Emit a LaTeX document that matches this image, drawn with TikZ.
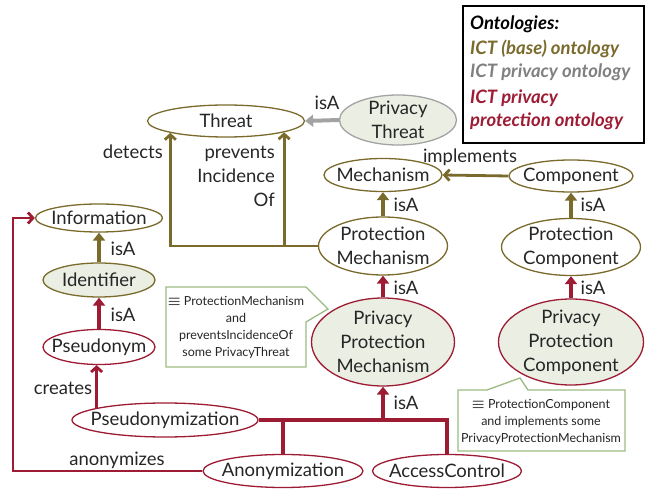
\documentclass[tikz,border=0pt]{standalone}
\usepackage{fontspec}
\setmainfont{Lato}
\usetikzlibrary{shapes.geometric,arrows.meta,calc}

\definecolor{baseol}{HTML}{7A6A2C}
\definecolor{privred}{HTML}{9E1B34}
\definecolor{privgray}{HTML}{808080}
\definecolor{arrowgray}{HTML}{A3A3A3}
\definecolor{lightfill}{HTML}{EAEEE3}
\definecolor{notegreen}{HTML}{9CBB83}
\definecolor{labelgray}{HTML}{262626}

% equivalence sign for the class definitions
\newcommand{\eqvsign}{{\fontsize{15}{17}\selectfont$\boldsymbol{\equiv}$}}
\usepackage{amsmath}

\tikzset{
  % the ellipse size is fixed by minimum width/height alone
  cls/.style={ellipse, draw, line width=1.3pt, inner xsep=-40pt, inner ysep=-20pt,
    align=center, fill=white, text=labelgray, font=\fontsize{18.5}{24}\selectfont},
  basecls/.style={cls, draw=baseol},
  protcls/.style={cls, draw=privred},
  privfill/.style={fill=lightfill},
  isa/.style={line width=4pt, -{Triangle[length=8pt,width=12pt]}},
  rel/.style={line width=2.8pt, -{Straight Barb[length=5pt,width=11pt]}},
  tree/.style={line width=4.5pt, draw=privred},
  lbl/.style={inner sep=0pt, text=labelgray, font=\fontsize{18.5}{24}\selectfont},
  notebox/.style={draw=notegreen, line width=1.3pt, fill=white, line join=miter},
  notetext/.style={inner sep=0pt, align=center, text=labelgray,
    font=\fontsize{12.5}{17}\selectfont},
  legtext/.style={inner sep=0pt, anchor=base west,
    font=\fontsize{18.5}{24}\selectfont\bfseries\itshape},
}

\begin{document}
\begin{tikzpicture}[x=1pt, y=-1pt]
\useasboundingbox (0,0) rectangle (649,489);

% legend
\node[draw=black, line width=2pt, minimum width=181pt, minimum height=137pt,
  anchor=north west, inner sep=0pt] (legend) at (462,5) {};
\node[legtext, text=black]    (leg0) at (470,30)  {Ontologies:};
\node[legtext, text=baseol]   (leg1) at (470,55)  {ICT (base) ontology};
\node[legtext, text=privgray] (leg2) at (470,78)  {ICT privacy ontology};
\node[legtext, text=privred]  (leg3) at (470,104) {ICT privacy};
\node[legtext, text=privred]  (leg4) at (470,127) {protection ontology};

% classes
\node[basecls, minimum width=157pt, minimum height=32pt] (threat) at (226,121) {Threat};
\node[cls, draw=arrowgray, privfill, minimum width=117pt, minimum height=50pt] (pthreat) at (398,120) {Privacy\\Threat};
\node[basecls, minimum width=118pt, minimum height=33pt] (mech) at (383,175) {Mechanism};
\node[basecls, minimum width=124pt, minimum height=32pt] (comp) at (571,176) {Component};
\node[basecls, minimum width=129pt, minimum height=58pt] (pmech) at (383,246) {Protection\\Mechanism};
\node[basecls, minimum width=139pt, minimum height=57pt] (pcomp) at (571,247) {Protection\\Component};
\node[protcls, privfill, minimum width=143pt, minimum height=88pt] (ppm) at (383,342) {Privacy\\Protection\\Mechanism};
\node[protcls, privfill, minimum width=145pt, minimum height=86pt] (ppc) at (571,342) {Privacy\\Protection\\Component};
\node[basecls, minimum width=127pt, minimum height=28pt] (info) at (99,218) {Information};
\node[basecls, privfill, minimum width=112pt, minimum height=34pt] (ident) at (99,280) {Identifier};
\node[protcls, minimum width=112pt, minimum height=35pt] (pseud) at (99,347) {Pseudonym};
\node[protcls, minimum width=186pt, minimum height=34pt] (pseudz) at (165,420) {Pseudonymization};
\node[protcls, minimum width=160pt, minimum height=33pt] (anon) at (283,471) {Anonymization};
\node[protcls, minimum width=149pt, minimum height=33pt] (access) at (447,471) {AccessControl};

% subclass relations
\draw[isa, arrowgray] (pthreat.west) -- (threat.east);
\draw[isa, baseol] (pmech) -- (mech);
\draw[isa, baseol] (pcomp) -- (comp);
\draw[isa, privred] (ppm) -- (pmech);
\draw[isa, privred] (ppc) -- (pcomp);
\draw[isa, baseol] (ident) -- (info);
\draw[isa, privred] (pseud) -- (ident);

% subclasses of the privacy protection mechanism
\draw[tree] (pseudz.east) -| (access.north);
\draw[tree] (anon.north) -- (anon.north |- pseudz.east);
\draw[isa, privred] (ppm.south |- pseudz.east) -- (ppm.south);

% object properties
\draw[rel, baseol] (comp.west) -- (mech.east);
\draw[rel, baseol] (pmech.west) -| (threat.192);
\draw[rel, baseol] (pmech.west) -| (threat.349);
\draw[rel, privred] (pseudz.170) -- (pseudz.170 |- pseud.south);
\coordinate (rail) at (13,0);
\draw[rel, privred, line join=miter] (anon.west) -- (anon.west -| rail) -- (rail |- info.west) -- (info.west);

% labels
\node[lbl] (l1) at (327,103) {isA};
\node[lbl] (l2) at (470,157) {implements};
\node[lbl] (l3) at (406,205) {isA};
\node[lbl] (l4) at (593,205) {isA};
\node[lbl] (l5) at (406,288) {isA};
\node[lbl] (l6) at (593,288) {isA};
\node[lbl] (l7) at (406,403) {isA};
\node[lbl] (l8) at (123,249) {isA};
\node[lbl] (l9) at (123,315) {isA};
\node[lbl, anchor=east] (l10) at (163,152) {detects};
\node[lbl, anchor=east, align=right] (l11) at (275,176) {prevents\\Incidence\\Of};
\node[lbl] (l12) at (63,388) {creates};
\node[lbl] (l13) at (117,460) {anonymizes};

% definitions
\draw[notebox] (166,287) -- (306,287) -- (328,309) -- (306,322) -- (306,367) -- (166,367) -- cycle;
\node[notetext] (n1) at (236,327) {\eqvsign{} ProtectionMechanism\\and\\preventsIncidenceOf\\some PrivacyThreat};
\draw[notebox] (458,390) -- (487,390) -- (520,378) -- (528,390) -- (625,390) -- (625,451) -- (458,451) -- cycle;
\node[notetext] (n2) at (541,422) {\eqvsign{} ProtectionComponent\\and implements some\\PrivacyProtectionMechanism};
\end{tikzpicture}
\end{document}
